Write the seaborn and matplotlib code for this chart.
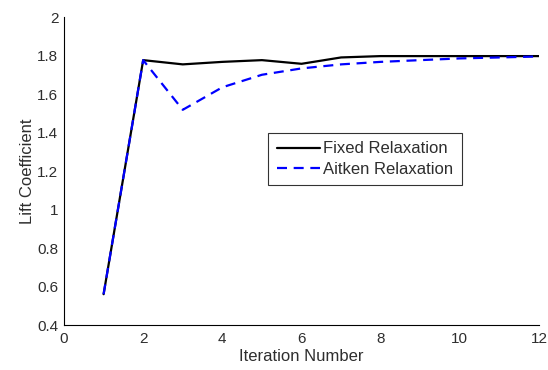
import matplotlib
matplotlib.use("Agg")
import matplotlib.pyplot as plt
import seaborn as sns
import pandas as pd

iterations = [1, 2, 3, 4, 5, 6, 7, 8, 9, 10, 11, 12]
fixed_relaxation = [0.56, 1.776, 1.754, 1.767, 1.776, 1.757, 1.79, 1.797, 1.797, 1.797, 1.797, 1.797]
aitken_relaxation = [0.56, 1.776, 1.518, 1.635, 1.700, 1.733, 1.754, 1.767, 1.776, 1.785, 1.790, 1.795]
x_ticks = [0, 2, 4, 6, 8, 10, 12]
y_ticks = [0.4, 0.6, 0.8, 1.0, 1.2, 1.4, 1.6, 1.8, 2.0]
y_tick_labels = ["0.4", "0.6", "0.8", "1", "1.2", "1.4", "1.6", "1.8", "2"]

df = pd.concat([
    pd.DataFrame({"Iteration": iterations, "Lift": fixed_relaxation, "Method": "Fixed Relaxation"}),
    pd.DataFrame({"Iteration": iterations, "Lift": aitken_relaxation, "Method": "Aitken Relaxation"}),
])

sns.set_style("white")
plt.rcParams["font.family"] = ["Liberation Sans", "DejaVu Sans"]

text_color = "#2e2e2e"

fig = plt.figure(figsize=(5.48, 3.70), dpi=100)
ax = fig.add_axes([0.1168, 0.1216, 0.8668, 0.8324])

sns.lineplot(
    data=df, x="Iteration", y="Lift", hue="Method", style="Method",
    palette={"Fixed Relaxation": "#000000", "Aitken Relaxation": "#0000ff"},
    dashes={"Fixed Relaxation": "", "Aitken Relaxation": (4.5, 3.0)},
    linewidth=1.6, ax=ax, legend=True,
)

ax.set_xlim(0, 12)
ax.set_ylim(0.4, 2.0)
ax.set_xticks(x_ticks)
ax.set_xticklabels([str(t) for t in x_ticks])
ax.set_yticks(y_ticks)
ax.set_yticklabels(y_tick_labels)
ax.tick_params(axis="both", direction="in", length=4, width=0.8, colors="#000000",
               labelsize=11, labelcolor=text_color)
ax.tick_params(axis="x", pad=5)
ax.tick_params(axis="y", pad=4)
for side in ("top", "right"):
    ax.spines[side].set_visible(False)
for side in ("left", "bottom"):
    ax.spines[side].set_color("#000000")
    ax.spines[side].set_linewidth(0.8)

ax.set_xlabel("Iteration Number", fontsize=12, color=text_color, labelpad=2)
ax.set_ylabel("Lift Coefficient", fontsize=12, color=text_color, labelpad=2)

leg = ax.legend(loc="upper left", bbox_to_anchor=(0.43, 0.623), fontsize=12,
                frameon=True, fancybox=False, edgecolor="#000000", handlelength=2.6,
                borderpad=0.5, labelspacing=0.33, handletextpad=0.2, borderaxespad=0)
leg.get_frame().set_linewidth(0.8)
for t in leg.get_texts():
    t.set_color(text_color)

fig.savefig("out.png", dpi=100)
